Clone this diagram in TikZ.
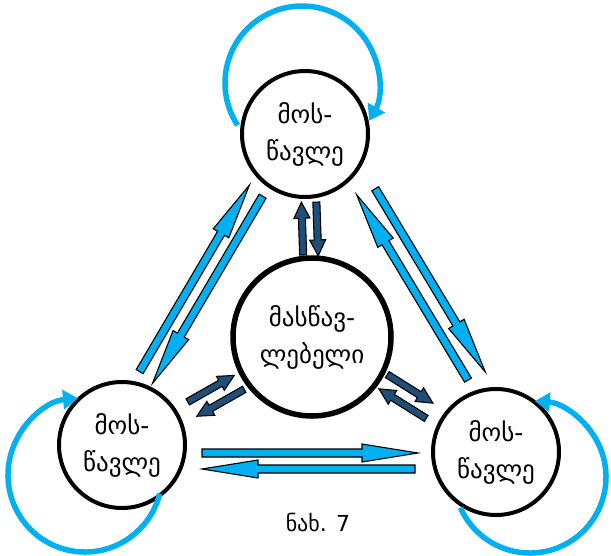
\documentclass[tikz,border=0pt]{standalone}
\usepackage{fontspec}
\setmainfont{DejaVu Sans}
\usepackage{tikz}
\usetikzlibrary{calc,arrows.meta}

\definecolor{lightblue}{HTML}{00B0F0}
\definecolor{darkblue}{HTML}{1F4E79}

\tikzset{
	pupil/.style={draw, circle, line width=4pt, minimum size=126pt, inner sep=0pt, align=center, font=\fontsize{25}{37}\selectfont},
	teacher/.style={draw, circle, line width=5.5pt, minimum size=158pt, inner sep=0pt, align=center, font=\fontsize{25}{37}\selectfont},
	selfloop/.style={draw=lightblue, line width=5.5pt, -{Triangle[length=15pt,width=19pt]}},
	lightarr/.style={draw=black, fill=lightblue, line width=1.1pt, line join=miter},
	darkarr/.style={draw=black, fill=darkblue, line width=1.1pt, line join=miter}
}

% block arrow: tail, tip, shaft half width, head half width, head length, style
\newcommand{\blockarrow}[6]{%
	\coordinate (hb) at ($(#2)!#5!(#1)$);
	\filldraw[#6] ($(#1)!#3!90:(#2)$) -- ($(hb)!#3!90:(#2)$) -- ($(hb)!#4!90:(#2)$) -- (#2)
		-- ($(hb)!#4!-90:(#2)$) -- ($(hb)!#3!-90:(#2)$) -- ($(#1)!#3!-90:(#2)$) -- cycle;
}

\begin{document}
\begin{tikzpicture}[x=1pt,y=-1pt]
	\useasboundingbox (0,0) rectangle (611,555);

	%circles
	\node[pupil] (top) at (305,134) {მოს-\\წავლე};
	\node[pupil] (lft) at (122,445) {მოს-\\წავლე};
	\node[pupil] (rgt) at (496,452) {მოს-\\წავლე};
	\node[teacher] (tch) at (312,337) {მასწავ-\\ლებელი};

	%caption
	\node[font=\fontsize{22}{26}\selectfont] (cap) at (318,523) {ნახ. 7};

	%self loops
	\coordinate (topc) at ($(top)+(-3,-51)$);
	\coordinate (lftc) at ($(lft)+(-37,30)$);
	\coordinate (rgtc) at ($(rgt)+(34,25)$);
	\draw[selfloop] ($(topc)+(146.7:77)$) arc[start angle=146.7, end angle=389.3, radius=77];
	\draw[selfloop] ($(lftc)+(14:77)$) arc[start angle=14, end angle=264.8, radius=77];
	\draw[selfloop] ($(rgtc)+(156.2:76)$) arc[start angle=156.2, end angle=-86.3, radius=76];

	%arrow ends, pupil to pupil
	\coordinate (tl1) at ($(top)!0.80!(lft)!22pt!-90:(lft)$);
	\coordinate (tl2) at ($(top)!0.20!(lft)!22pt!-90:(lft)$);
	\coordinate (tl3) at ($(top)!0.208!(lft)!5pt!-90:(lft)$);
	\coordinate (tl4) at ($(top)!0.81!(lft)!5pt!-90:(lft)$);
	%
	\coordinate (tr1) at ($(top)!0.795!(rgt)!13pt!90:(rgt)$);
	\coordinate (tr2) at ($(top)!0.212!(rgt)!13pt!90:(rgt)$);
	\coordinate (tr3) at ($(top)!0.224!(rgt)!32pt!90:(rgt)$);
	\coordinate (tr4) at ($(top)!0.80!(rgt)!32pt!90:(rgt)$);
	%
	\coordinate (lr1) at ($(lft)+(80,8)$);
	\coordinate (lr2) at ($(lft)+(296,8)$);
	\coordinate (lr3) at ($(lft)+(293,24)$);
	\coordinate (lr4) at ($(lft)+(80,24)$);

	%arrow ends, teacher to pupil
	\coordinate (ct1) at ($(tch)!0.405!(top)!6pt!90:(top)$);
	\coordinate (ct2) at ($(tch)!0.665!(top)!6pt!90:(top)$);
	\coordinate (ct3) at ($(tch)!0.663!(top)!9pt!-90:(top)$);
	\coordinate (ct4) at ($(tch)!0.398!(top)!9pt!-90:(top)$);
	%
	\coordinate (cl1) at ($(tch)!0.641!(lft)!5pt!-90:(lft)$);
	\coordinate (cl2) at ($(tch)!0.396!(lft)!5pt!-90:(lft)$);
	\coordinate (cl3) at ($(tch)!0.388!(lft)!12pt!90:(lft)$);
	\coordinate (cl4) at ($(tch)!0.637!(lft)!12pt!90:(lft)$);
	%
	\coordinate (cr1) at ($(tch)!0.386!(rgt)!8pt!90:(rgt)$);
	\coordinate (cr2) at ($(tch)!0.634!(rgt)!8pt!90:(rgt)$);
	\coordinate (cr3) at ($(tch)!0.645!(rgt)!8.5pt!-90:(rgt)$);
	\coordinate (cr4) at ($(tch)!0.388!(rgt)!8.5pt!-90:(rgt)$);

	%light arrows
	\blockarrow{tl1}{tl2}{4pt}{9pt}{56pt}{lightarr}
	\blockarrow{tl3}{tl4}{4pt}{9pt}{56pt}{lightarr}
	\blockarrow{tr1}{tr2}{4pt}{9pt}{56pt}{lightarr}
	\blockarrow{tr3}{tr4}{4pt}{9pt}{56pt}{lightarr}
	\blockarrow{lr1}{lr2}{4pt}{9pt}{56pt}{lightarr}
	\blockarrow{lr3}{lr4}{4pt}{9pt}{56pt}{lightarr}

	%dark arrows
	\blockarrow{ct1}{ct2}{3.5pt}{8pt}{16pt}{darkarr}
	\blockarrow{ct3}{ct4}{3.5pt}{8pt}{16pt}{darkarr}
	\blockarrow{cl1}{cl2}{3.5pt}{8pt}{16pt}{darkarr}
	\blockarrow{cl3}{cl4}{3.5pt}{8pt}{16pt}{darkarr}
	\blockarrow{cr1}{cr2}{3.5pt}{8pt}{16pt}{darkarr}
	\blockarrow{cr3}{cr4}{3.5pt}{8pt}{16pt}{darkarr}
\end{tikzpicture}
\end{document}
